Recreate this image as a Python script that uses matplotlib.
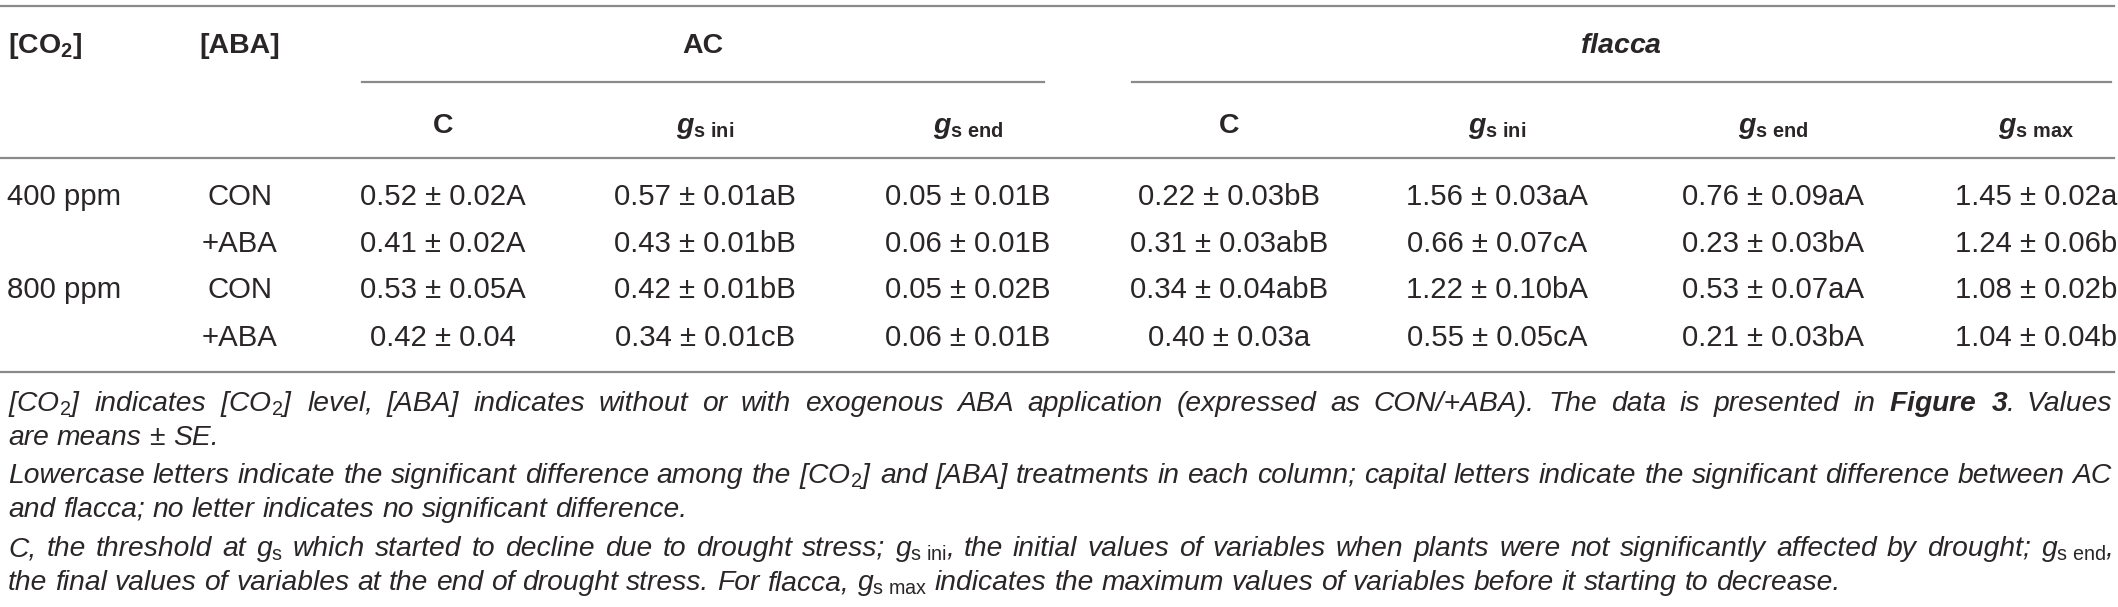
import matplotlib
matplotlib.use("Agg")
import matplotlib.pyplot as plt
from matplotlib.lines import Line2D

plt.rcParams['font.family'] = ['Liberation Sans', 'DejaVu Sans']
plt.rcParams['mathtext.fontset'] = 'custom'
plt.rcParams['mathtext.rm'] = 'Liberation Sans'
plt.rcParams['mathtext.it'] = 'Liberation Sans:italic'
plt.rcParams['mathtext.bf'] = 'Liberation Sans:bold'
plt.rcParams['mathtext.bfit'] = 'Liberation Sans:bold:italic'
plt.rcParams['mathtext.sf'] = 'Liberation Sans'

# ---------------- data ----------------
co2_levels = ["400 ppm", "", "800 ppm", ""]
aba_levels = ["CON", "+ABA", "CON", "+ABA"]
group_names = ["AC", "$\\mathbfit{flacca}$"]
ac_headers = ["C", "$\\mathbfit{g}_\\mathbf{s\\ ini}$", "$\\mathbfit{g}_\\mathbf{s\\ end}$"]
fl_headers = ["C", "$\\mathbfit{g}_\\mathbf{s\\ ini}$", "$\\mathbfit{g}_\\mathbf{s\\ end}$",
              "$\\mathbfit{g}_\\mathbf{s\\ max}$"]
ac_C = ["0.52 ± 0.02A", "0.41 ± 0.02A", "0.53 ± 0.05A", "0.42 ± 0.04"]
ac_gs_ini = ["0.57 ± 0.01aB", "0.43 ± 0.01bB", "0.42 ± 0.01bB", "0.34 ± 0.01cB"]
ac_gs_end = ["0.05 ± 0.01B", "0.06 ± 0.01B", "0.05 ± 0.02B", "0.06 ± 0.01B"]
fl_C = ["0.22 ± 0.03bB", "0.31 ± 0.03abB", "0.34 ± 0.04abB", "0.40 ± 0.03a"]
fl_gs_ini = ["1.56 ± 0.03aA", "0.66 ± 0.07cA", "1.22 ± 0.10bA", "0.55 ± 0.05cA"]
fl_gs_end = ["0.76 ± 0.09aA", "0.23 ± 0.03bA", "0.53 ± 0.07aA", "0.21 ± 0.03bA"]
fl_gs_max = ["1.45 ± 0.02a", "1.24 ± 0.06b", "1.08 ± 0.02b", "1.04 ± 0.04b"]

caption_lines = [
    ("[CO$_2$] indicates [CO$_2$] level, [ABA] indicates without or with exogenous ABA "
     "application (expressed as CON/+ABA). The data is presented in $\\mathbfit{Figure}$ "
     "$\\mathbfit{3}$. Values", True),
    ("are means ± SE.", False),
    ("Lowercase letters indicate the significant difference among the [CO$_2$] and [ABA] "
     "treatments in each column; capital letters indicate the significant difference between AC", True),
    ("and flacca; no letter indicates no significant difference.", False),
    ("C, the threshold at $g_\\mathrm{s}$ which started to decline due to drought stress; "
     "$g_\\mathrm{s\\ ini}$, the initial values of variables when plants were not significantly "
     "affected by drought; $g_\\mathrm{s\\ end}$,", True),
    ("the final values of variables at the end of drought stress. For flacca, "
     "$g_\\mathrm{s\\ max}$ indicates the maximum values of variables before it starting to decrease.", False),
]

# ---------------- layout ----------------
W, H = 2118, 607
fig = plt.figure(figsize=(W / 100, H / 100), dpi=100)
TXT = "#2a2627"
RULE = "#8a8a8a"
FS = 21.2
HFS = 20.5
CFS = 20.3


def fx(x):
    return x / W


def fy(y):
    return 1 - y / H


def rule(x0, x1, y):
    fig.add_artist(Line2D([fx(x0), fx(x1)], [fy(y), fy(y)], color=RULE, lw=1.6,
                          transform=fig.transFigure))


rule(0, 2114, 6)
rule(362, 1044, 82)
rule(1132, 2111, 82)
rule(0, 2114, 158)
rule(0, 2114, 372)

# header
fig.text(fx(8), fy(53), "[CO$_\\mathbf{2}$]", fontsize=HFS, fontweight="bold", color=TXT,
         ha="left", va="baseline")
fig.text(fx(240), fy(53), "[ABA]", fontsize=HFS, fontweight="bold", color=TXT,
         ha="center", va="baseline")
group_centers = [703, 1621]
for name, xc in zip(group_names, group_centers):
    fig.text(fx(xc), fy(53), name, fontsize=HFS, fontweight="bold", color=TXT,
             ha="center", va="baseline")

col_x = [443, 705, 968, 1229, 1497, 1773, 2036]
headers = ac_headers + fl_headers
for h, xc in zip(headers, col_x):
    fig.text(fx(xc), fy(133), h, fontsize=HFS, fontweight="bold", color=TXT,
             ha="center", va="baseline")

# body
columns = [ac_C, ac_gs_ini, ac_gs_end, fl_C, fl_gs_ini, fl_gs_end, fl_gs_max]
row_base = [205, 252, 298, 346]
for i, yb in enumerate(row_base):
    fig.text(fx(7), fy(yb), co2_levels[i], fontsize=FS, color=TXT, ha="left", va="baseline")
    fig.text(fx(240), fy(yb), aba_levels[i], fontsize=FS, color=TXT, ha="center", va="baseline")
    for col, xc in zip(columns, col_x):
        fig.text(fx(xc), fy(yb), col[i], fontsize=FS, color=TXT, ha="center", va="baseline")

# caption (justified lines)
renderer = fig.canvas.get_renderer()
cap_base = [411, 445, 483, 517, 556, 590]
X0, X1 = 8, 2112
space_px = CFS * 100 / 72 * 0.278
for (line, justify), yb in zip(caption_lines, cap_base):
    words = []
    buf = ""
    inmath = False
    for ch in line:
        if ch == "$":
            inmath = not inmath
        if ch == " " and not inmath:
            if buf:
                words.append(buf)
            buf = ""
        else:
            buf += ch
    if buf:
        words.append(buf)
    arts = [fig.text(0, fy(yb), w, fontsize=CFS, style="italic", color=TXT,
                     ha="left", va="baseline") for w in words]
    widths = [a.get_window_extent(renderer).width for a in arts]
    if justify and len(arts) > 1:
        gap = (X1 - X0 - sum(widths)) / (len(arts) - 1)
    else:
        gap = space_px
    x = X0
    for a, w in zip(arts, widths):
        a.set_x(fx(x))
        x += w + gap

fig.savefig("out.png", dpi=100)
